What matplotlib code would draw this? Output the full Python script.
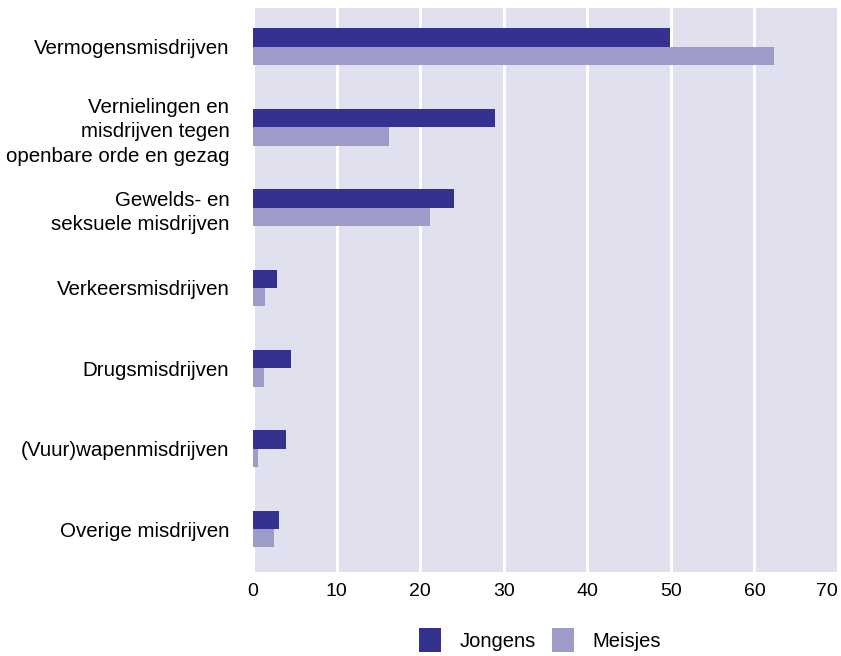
import numpy as np
import matplotlib.pyplot as plt

# Data
categories = ['Vermogensmisdrijven',
              'Vernielingen en\nmisdrijven tegen\nopenbare orde en gezag',
              'Gewelds- en\nseksuele misdrijven',
              'Verkeersmisdrijven',
              'Drugsmisdrijven',
              '(Vuur)wapenmisdrijven',
              'Overige misdrijven']
jongens = [49.9, 28.9, 24.0, 2.9, 4.5, 3.9, 3.1]
meisjes = [62.3, 16.3, 21.2, 1.4, 1.3, 0.6, 2.5]
xticks = [0, 10, 20, 30, 40, 50, 60, 70]

c_j = '#34318f'
c_m = '#9c9bc9'
bg = '#e1e0ef'

plt.rcParams['font.family'] = ['Liberation Sans', 'DejaVu Sans']

fig = plt.figure(figsize=(8.41, 6.56), dpi=100)
ax = fig.add_axes([253/841, 1 - 572/656, (838-253)/841, (572-8)/656])

y = np.arange(len(categories))
h = 0.23
ax.barh(y - h/2, jongens, height=h, color=c_j, label='Jongens', zorder=3)
ax.barh(y + h/2, meisjes, height=h, color=c_m, label='Meisjes', zorder=3)

ax.set_facecolor(bg)
ax.set_xlim(0, 70)
ax.set_ylim(6.535, -0.485)
ax.set_xticks(xticks)
ax.set_yticks(y)
ax.set_yticklabels(categories, fontsize=14.8, linespacing=1.35)
ax.tick_params(axis='x', labelsize=14, length=0, pad=8)
ax.tick_params(axis='y', length=0, pad=17)
ax.get_xticklabels()[-1].set_horizontalalignment('right')
ax.grid(axis='x', color='white', linewidth=2.2, zorder=1)
for s in ax.spines.values():
    s.set_visible(False)

leg = fig.legend(loc='center', bbox_to_anchor=(540/841, 1 - 640/656), ncol=2,
                 frameon=False, fontsize=14.5, handlelength=1.1, handleheight=1.4,
                 columnspacing=0.8, handletextpad=0.9)

plt.savefig('out.png', dpi=100)
